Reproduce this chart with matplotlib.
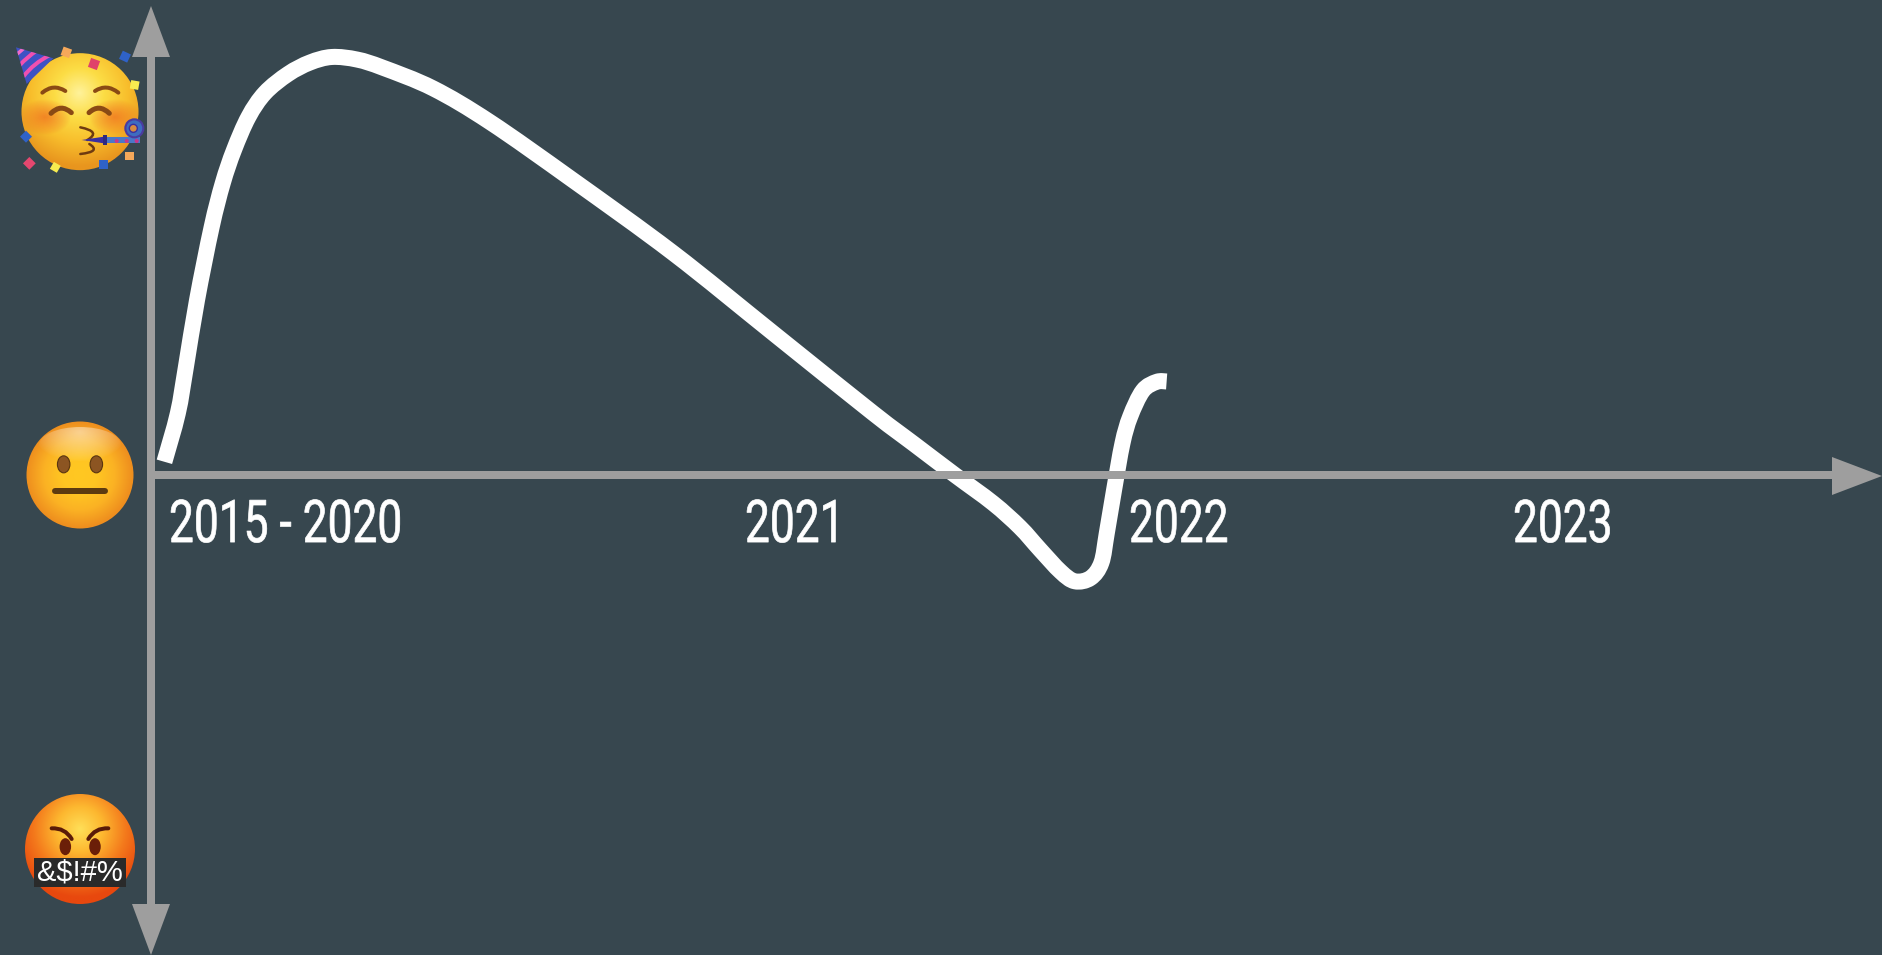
import numpy as np
import matplotlib
matplotlib.use("Agg")
import matplotlib.pyplot as plt
from matplotlib.colors import LinearSegmentedColormap, to_rgb
from matplotlib.patches import Circle, Ellipse, Polygon, Rectangle, PathPatch
from matplotlib.path import Path
from matplotlib.patheffects import AbstractPathEffect
from matplotlib.transforms import Affine2D

# the curve: x in years, y in mood (-1 angry, 0 meh, 1 party)
years = [2019.488, 2019.523, 2019.544, 2019.573, 2019.611, 2019.640, 2019.669, 2019.707,
         2019.750, 2019.810, 2019.867, 2019.924, 2019.990, 2020.057, 2020.188, 2020.336,
         2020.552, 2020.813, 2021.073, 2021.333, 2021.440, 2021.547, 2021.646, 2021.716,
         2021.768, 2021.822, 2021.859, 2021.900, 2021.928, 2021.942, 2021.961, 2021.983,
         2022.003, 2022.036, 2022.072, 2022.098]
mood = [0.036, 0.167, 0.292, 0.473, 0.670, 0.789, 0.878, 0.968,
        1.033, 1.084, 1.115, 1.130, 1.123, 1.101, 1.045, 0.954,
        0.797, 0.600, 0.384, 0.168, 0.084, 0.000, -0.076, -0.141,
        -0.201, -0.261, -0.287, -0.278, -0.237, -0.158, -0.041, 0.086,
        0.158, 0.228, 0.252, 0.253]

tick_years = [2019.5, 2021, 2022, 2023]
tick_labels = ["2015 - 2020", "2021", "2022", "2023"]

BG = "#37474F"
AXIS = "#9E9E9E"
W, H = 1882, 955
PT = 0.72  # px to pt at dpi 100


class Squeeze(AbstractPathEffect):
    # no condensed font around, so narrow the glyphs horizontally
    def __init__(self, sx, bold=0.5):
        super().__init__()
        self.sx = sx
        self.bold = bold

    def draw_path(self, renderer, gc, tpath, affine, rgbFace=None):
        gc.set_linewidth(self.bold)
        gc.set_foreground(rgbFace)
        renderer.draw_path(gc, tpath, Affine2D().scale(self.sx, 1) + affine, rgbFace)


fig = plt.figure(figsize=(W / 100, H / 100), dpi=100, facecolor=BG)

# main axes, mapped so that the scales fill the whole figure
ax = fig.add_axes([0, 0, 1, 1], facecolor=BG)
ax.set_xlim(2019.0599, 2023.9609)
ax.set_ylim(-1.297, 1.284)
ax.axis("off")

# smooth the line through the read points with bezier segments
pts = np.column_stack([years, mood])
verts = [pts[0]]
codes = [Path.MOVETO]
for i in range(len(pts) - 1):
    p0 = pts[max(i - 1, 0)]
    p1 = pts[i]
    p2 = pts[i + 1]
    p3 = pts[min(i + 2, len(pts) - 1)]
    verts += [p1 + (p2 - p0) / 6, p2 - (p3 - p1) / 6, p2]
    codes += [Path.CURVE4] * 3
ax.add_patch(PathPatch(Path(verts, codes), fc="none", ec="white", lw=16 * PT, capstyle="butt",
                       joinstyle="round", zorder=2))

for yr, lab in zip(tick_years, tick_labels):
    ax.text(yr, -0.181, lab, color="white", ha="left", va="baseline", family=["Roboto", "DejaVu Sans"],
            fontsize=42.5, zorder=3, path_effects=[Squeeze(0.75)])

# overlay in pixels for arrows and emoji
deco = fig.add_axes([0, 0, 1, 1], zorder=5)
deco.patch.set_alpha(0)
deco.axis("off")
deco.set_xlim(0, W)
deco.set_ylim(H, 0)

# arrows
deco.add_patch(Rectangle((147, 55), 8, 851, fc=AXIS, ec="none"))
deco.add_patch(Rectangle((155, 471), 1680, 8, fc=AXIS, ec="none"))
deco.add_patch(Polygon([(151, 6), (132, 57), (170, 57)], fc=AXIS, ec="none"))
deco.add_patch(Polygon([(151, 955), (132, 904), (170, 904)], fc=AXIS, ec="none"))
deco.add_patch(Polygon([(1882, 476), (1832, 457), (1832, 495)], fc=AXIS, ec="none"))


def radial(cx, cy, r, stops, fx=None, fy=None, scale=1.0):
    # gradient filled disc, fx/fy is where the gradient is centred
    fx = cx if fx is None else fx
    fy = cy if fy is None else fy
    n = int(r * 4)
    big = r + 3
    xs = np.linspace(cx - big, cx + big, n)
    ys = np.linspace(cy - big, cy + big, n)
    xx, yy = np.meshgrid(xs, ys)
    d = np.hypot(xx - fx, yy - fy) / (r * scale)
    cmap = LinearSegmentedColormap.from_list("g", stops)
    im = deco.imshow(np.clip(d, 0, 1), cmap=cmap, vmin=0, vmax=1, extent=(cx - big, cx + big, cy + big, cy - big),
                     origin="upper", aspect="auto", interpolation="bilinear", zorder=6)
    clip = Circle((cx, cy), r, transform=deco.transData)
    im.set_clip_path(clip)
    return clip


def glow(cx, cy, rx, ry, color, alpha, clip=None, z=7):
    n = 80
    xs = np.linspace(-1, 1, n)
    xx, yy = np.meshgrid(xs, xs)
    img = np.zeros((n, n, 4))
    img[..., :3] = to_rgb(color)
    img[..., 3] = alpha * np.clip(1 - np.hypot(xx, yy), 0, 1) ** 0.8
    im = deco.imshow(img, extent=(cx - rx, cx + rx, cy + ry, cy - ry), origin="upper",
                     aspect="auto", interpolation="bilinear", zorder=z)
    if clip is not None:
        im.set_clip_path(clip)


def curve(pts, color, w, z=8, clip=None):
    # quadratic bezier, pts are start, control, end
    codes = [Path.MOVETO, Path.CURVE3, Path.CURVE3]
    p = PathPatch(Path(pts, codes), fc="none", ec=color, lw=w * PT, capstyle="round", zorder=z)
    deco.add_patch(p)
    if clip is not None:
        p.set_clip_path(clip)


def square(x, y, s, rot, color, z=8):
    a = np.radians(rot)
    c, si = np.cos(a) * s / 2, np.sin(a) * s / 2
    deco.add_patch(Polygon([(x - c + si, y - si - c), (x + c + si, y + si - c),
                            (x + c - si, y + si + c), (x - c - si, y - si + c)], fc=color, ec="none", zorder=z))


def happy(ox, oy):
    z = lambda x, y: (ox + x / 3, oy + y / 3)
    cx, cy = z(240, 275)
    clip = radial(cx, cy, 58.5, ["#FFF29A", "#FCDD45", "#F8BE2C", "#E8951E"], fx=cx, fy=cy - 18, scale=1.25)
    glow(*z(135, 290), 26, 18, "#F07020", 0.75, clip)
    glow(*z(345, 290), 26, 18, "#F07020", 0.75, clip)
    brown = "#8A4A14"
    curve([z(127, 218), z(160, 190), z(196, 213)], brown, 4)
    curve([z(285, 213), z(320, 190), z(355, 218)], brown, 4)
    curve([z(153, 280), z(183, 250), z(214, 278)], brown, 5)
    curve([z(267, 278), z(297, 250), z(328, 280)], brown, 5)
    curve([z(241, 322), z(305, 335), z(262, 360)], "#6E3A10", 2.5)
    curve([z(241, 402), z(305, 395), z(268, 372)], "#6E3A10", 2.5)
    # hat
    hat = Polygon([z(48, 82), z(160, 115), z(80, 192)], fc="#3E52C4", ec="none", zorder=8)
    deco.add_patch(hat)
    curve([z(48, 105), z(60, 95), z(75, 82)], "#F06AC8", 3.5, 9, hat)
    curve([z(60, 135), z(80, 112), z(110, 92)], "#F050B0", 4, 9, hat)
    curve([z(70, 170), z(100, 130), z(150, 105)], "#F050B0", 4, 9, hat)
    # party blower
    deco.add_patch(Rectangle(z(310, 351), 110 / 3, 18 / 3, fc="#4A78C8", ec="none", zorder=8))
    for dx in (350, 380, 410):
        deco.add_patch(Circle(z(dx, 363), 2, fc="#C8358A", ec="none", zorder=9))
    deco.add_patch(Polygon([z(245, 360), z(312, 350), z(312, 370)], fc="#3A2FA0", ec="none", zorder=9))
    deco.add_patch(Rectangle(z(310, 345), 12 / 3, 30 / 3, fc="#2E2A80", ec="none", zorder=9))
    deco.add_patch(Circle(z(403, 325), 9, fc="#3E6CC0", ec="#4A3BA0", lw=1.5, zorder=9))
    deco.add_patch(Circle(z(400, 325), 4, fc="#D88A40", ec="#3A2FA0", lw=1, zorder=10))
    # confetti
    square(*z(199, 97), 9, 20, "#F5A85A")
    square(*z(282, 132), 9.5, 20, "#E0426A")
    square(*z(375, 110), 9, 25, "#2F62C8")
    square(*z(404, 195), 8.5, 10, "#F8EC50")
    square(*z(78, 350), 8.5, 45, "#2F62C8")
    square(*z(88, 430), 9, 45, "#E5476F")
    square(*z(166, 442), 8, 30, "#F8EC50")
    square(*z(310, 433), 8.5, 0, "#2F62C8")
    square(*z(389, 408), 8.5, 0, "#F5A85A")


def neutral(ox, oy):
    z = lambda x, y: (ox + x / 3, oy + y / 3)
    cx, cy = z(240, 225)
    clip = radial(cx, cy, 53.5, ["#FFC822", "#FFC522", "#FBB224", "#EE8E1E"], scale=1.0)
    top = Ellipse(z(240, 135), 82, 36, transform=deco.transData)
    glow(*z(240, 95), 48, 30, "#FFFFFF", 0.5, top)
    for ex in (191, 289):
        deco.add_patch(Ellipse(z(ex, 193), 12.5, 17, fc="#8C5522", ec="#5A3510", lw=0.8, zorder=8))
    deco.plot([ox + 165 / 3, ox + 315 / 3], [oy + 273 / 3] * 2, color="#5C3A10", lw=6 * PT,
              solid_capstyle="round", zorder=8)


def angry(ox, oy):
    z = lambda x, y: (ox + x / 3, oy + y / 3)
    cx, cy = z(240, 222)
    radial(cx, cy, 55, ["#FFDF58", "#FDB830", "#F47A1C", "#E8480E"], fx=cx, fy=cy - 20, scale=1.25)
    dark = "#5A1A08"
    curve([z(155, 160), z(195, 158), z(215, 192)], dark, 4)
    curve([z(325, 160), z(285, 158), z(265, 192)], dark, 4)
    for ex in (196, 285):
        deco.add_patch(Ellipse(z(ex, 215), 11.5, 17, fc="#6B1F08", ec="none", zorder=8))
    deco.add_patch(Rectangle(z(103, 250), 275 / 3, 85 / 3, fc="#2A2A2A", ec="none", zorder=8))
    tx, ty = z(241, 292)
    deco.text(tx, ty, "&$!#%", color="white", ha="center", va="center",
              family=["Liberation Sans", "DejaVu Sans"], fontsize=21, zorder=9)


happy(0, 20)
neutral(0, 400)
angry(0, 775)

deco.set_xlim(0, W)
deco.set_ylim(H, 0)
fig.savefig("out.png", dpi=100, facecolor=BG)
